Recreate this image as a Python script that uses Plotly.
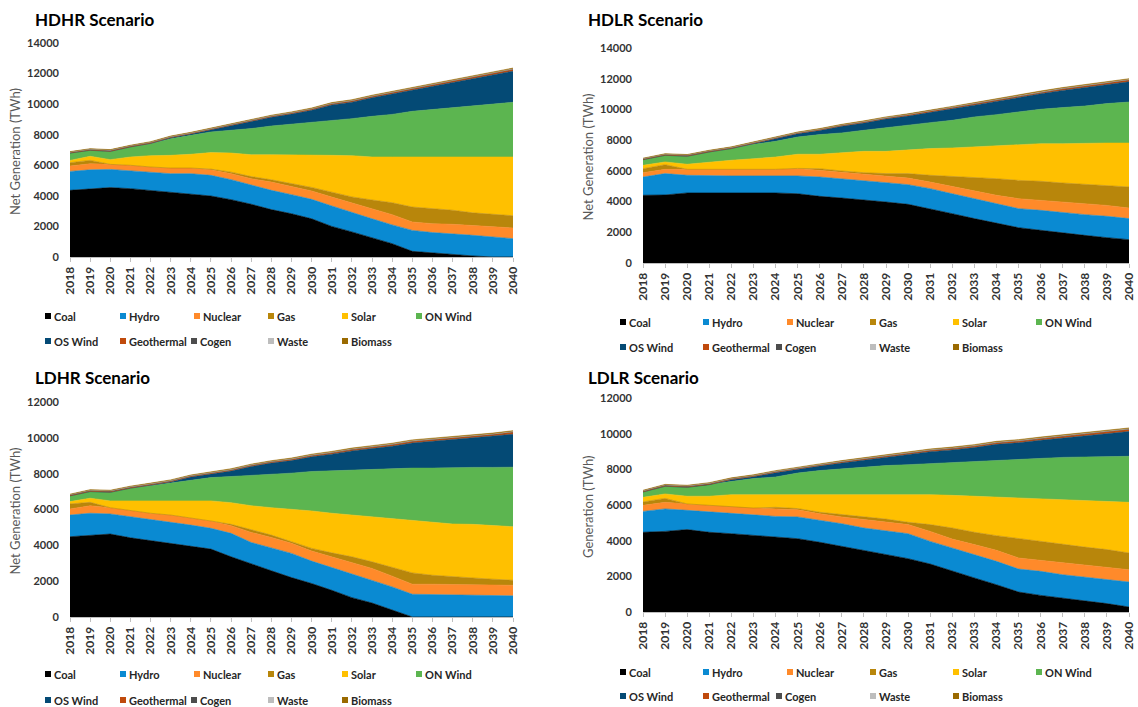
import plotly.graph_objects as go

W, H = 1138, 707

years = list(range(2018, 2041))
year_labels = [str(y) for y in years]

series_names = ["Coal", "Hydro", "Nuclear", "Gas", "Solar", "ON Wind",
                "OS Wind", "Geothermal", "Cogen", "Waste", "Biomass"]
series_colors = ["#000000", "#0A8AD2", "#FF8A2A", "#B8860B", "#FFC000", "#5CB550",
                 "#044A75", "#C04A0C", "#4D4D4D", "#BDBDBD", "#9A6A00"]

# Minor sources (TWh), common to all scenarios
geothermal = [15, 18, 20, 22, 25, 28, 32, 36, 40, 45, 50, 55, 60, 65, 70, 75, 80, 85, 90, 95, 100, 105, 110]
cogen = [45, 50, 55, 50, 45, 40, 38, 36, 35, 34, 33, 32, 31, 30, 30, 29, 28, 28, 27, 26, 26, 25, 25]
waste = [10, 10, 10, 10, 11, 11, 11, 12, 12, 12, 12, 13, 13, 13, 13, 14, 14, 14, 14, 15, 15, 15, 15]
biomass = [25, 28, 30, 30, 32, 34, 35, 36, 38, 40, 40, 42, 43, 44, 45, 46, 47, 48, 48, 49, 50, 50, 50]

# HDHR scenario (TWh)
hdhr_coal = [4360, 4470, 4540, 4470, 4360, 4230, 4140, 3990, 3750, 3450, 3100, 2830, 2500, 2000, 1640, 1240, 870, 370, 260, 150, 70, 0, 0]
hdhr_hydro = [1240, 1230, 1190, 1180, 1180, 1220, 1310, 1350, 1310, 1240, 1260, 1250, 1270, 1340, 1260, 1260, 1230, 1370, 1340, 1380, 1350, 1310, 1200]
hdhr_nuclear = [350, 400, 330, 350, 350, 370, 370, 370, 390, 430, 540, 540, 550, 580, 650, 660, 670, 550, 580, 610, 630, 690, 700]
hdhr_gas = [220, 220, 0, 0, 0, 0, 0, 40, 100, 140, 150, 200, 230, 320, 380, 570, 780, 980, 970, 920, 840, 790, 800]
hdhr_solar = [150, 270, 310, 540, 740, 830, 900, 1080, 1250, 1430, 1640, 1870, 2100, 2410, 2700, 2810, 2990, 3270, 3390, 3480, 3650, 3750, 3840]
hdhr_onwind = [480, 390, 540, 660, 780, 1090, 1240, 1350, 1490, 1710, 1880, 1990, 2160, 2290, 2420, 2660, 2790, 2990, 3100, 3210, 3340, 3450, 3580]
hdhr_oswind = [0, 0, 0, 0, 20, 60, 80, 140, 300, 470, 570, 670, 790, 1010, 1080, 1220, 1340, 1420, 1560, 1700, 1810, 1960, 2040]

# HDLR scenario (TWh)
hdlr_coal = [4410, 4430, 4560, 4560, 4560, 4560, 4560, 4510, 4340, 4230, 4120, 3970, 3820, 3540, 3210, 2890, 2600, 2300, 2130, 1950, 1800, 1650, 1520]
hdlr_hydro = [1190, 1390, 1150, 1110, 1110, 1110, 1110, 1160, 1260, 1260, 1220, 1260, 1280, 1300, 1300, 1300, 1260, 1240, 1300, 1330, 1350, 1390, 1370]
hdlr_nuclear = [280, 280, 390, 430, 430, 430, 430, 490, 430, 390, 410, 410, 430, 430, 480, 540, 550, 650, 650, 690, 710, 710, 690]
hdlr_gas = [260, 300, 0, 0, 0, 0, 0, 0, 110, 110, 130, 180, 290, 440, 650, 870, 1080, 1190, 1240, 1240, 1260, 1310, 1370]
hdlr_solar = [220, 180, 330, 480, 590, 690, 800, 920, 940, 1190, 1390, 1450, 1560, 1740, 1850, 1950, 2130, 2280, 2450, 2560, 2690, 2750, 2860]
hdlr_onwind = [370, 430, 520, 650, 760, 940, 1020, 1120, 1280, 1290, 1370, 1540, 1630, 1690, 1800, 1960, 2040, 2170, 2240, 2350, 2410, 2570, 2670]
hdlr_oswind = [0, 0, 0, 0, 0, 40, 210, 210, 270, 430, 480, 560, 560, 690, 750, 770, 870, 960, 1010, 1120, 1200, 1220, 1320]

# LDHR scenario (TWh)
ldhr_coal = [4480, 4540, 4630, 4420, 4260, 4110, 3960, 3790, 3360, 2990, 2580, 2200, 1870, 1490, 1080, 780, 370, 0, 0, 0, 0, 0, 0]
ldhr_hydro = [1210, 1250, 1120, 1180, 1190, 1170, 1170, 1160, 1310, 1170, 1280, 1350, 1250, 1270, 1310, 1270, 1310, 1270, 1250, 1210, 1180, 1180, 1180]
ldhr_nuclear = [340, 420, 350, 330, 340, 410, 410, 410, 430, 560, 580, 560, 560, 600, 630, 660, 600, 560, 580, 600, 630, 590, 590]
ldhr_gas = [280, 190, 0, 0, 0, 0, 0, 0, 70, 130, 130, 90, 150, 220, 340, 370, 480, 630, 500, 430, 370, 340, 280]
ldhr_solar = [130, 230, 380, 550, 690, 790, 940, 1120, 1210, 1360, 1530, 1830, 2090, 2210, 2330, 2520, 2710, 2920, 2950, 2950, 2990, 2990, 2990]
ldhr_onwind = [320, 370, 480, 710, 840, 990, 1170, 1300, 1460, 1680, 1870, 2000, 2200, 2370, 2520, 2650, 2800, 2930, 3030, 3150, 3180, 3250, 3320]
ldhr_oswind = [0, 0, 0, 0, 40, 70, 160, 180, 310, 510, 620, 700, 820, 930, 1060, 1150, 1260, 1400, 1490, 1560, 1630, 1720, 1840]

# LDLR scenario (TWh)
ldlr_coal = [4470, 4520, 4620, 4470, 4390, 4300, 4190, 4110, 3910, 3680, 3460, 3250, 2990, 2690, 2280, 1910, 1530, 1120, 930, 790, 640, 470, 280]
ldlr_hydro = [1170, 1260, 1080, 1140, 1120, 1120, 1170, 1220, 1230, 1270, 1250, 1310, 1400, 1270, 1310, 1300, 1310, 1290, 1350, 1300, 1320, 1380, 1400]
ldlr_nuclear = [340, 370, 360, 370, 420, 410, 420, 410, 370, 380, 470, 490, 510, 560, 500, 570, 620, 620, 620, 660, 660, 650, 690]
ldlr_gas = [190, 220, 0, 0, 0, 0, 90, 60, 80, 130, 180, 160, 130, 380, 620, 690, 820, 1080, 1060, 1060, 1020, 1000, 940]
ldlr_solar = [260, 250, 430, 510, 650, 750, 750, 820, 1030, 1160, 1260, 1410, 1590, 1680, 1830, 2020, 2170, 2280, 2400, 2490, 2600, 2710, 2840]
ldlr_onwind = [300, 430, 500, 650, 750, 900, 950, 1170, 1310, 1400, 1510, 1590, 1640, 1740, 1820, 1920, 2040, 2150, 2240, 2370, 2450, 2520, 2580]
ldlr_oswind = [0, 0, 0, 0, 80, 100, 240, 220, 250, 340, 380, 440, 560, 670, 730, 810, 910, 950, 1030, 1090, 1190, 1270, 1390]

FONT = "Lato"
TICK_COLOR = "#333333"


def px(x):
    return x / W


def py(y):
    return 1 - y / H


panels = [
    dict(title="HDHR Scenario", ytitle="Net Generation (TWh)", ymax=14000,
         data=[hdhr_coal, hdhr_hydro, hdhr_nuclear, hdhr_gas, hdhr_solar, hdhr_onwind, hdhr_oswind],
         x0=70, x1=513, ytop=43, ybot=257, title_xy=(33, 19), ytitle_x=15,
         leg_x=[45, 120, 194, 268, 342, 416], leg_x2=[45, 120, 191, 268, 342], leg_y=(316, 341)),
    dict(title="HDLR Scenario", ytitle="Net Generation (TWh)", ymax=14000,
         data=[hdlr_coal, hdlr_hydro, hdlr_nuclear, hdlr_gas, hdlr_solar, hdlr_onwind, hdlr_oswind],
         x0=643, x1=1129, ytop=48, ybot=263, title_xy=(586, 19), ytitle_x=588,
         leg_x=[620, 703, 787, 870, 953, 1036], leg_x2=[620, 703, 776, 870, 953], leg_y=(322, 347)),
    dict(title="LDHR Scenario", ytitle="Net Generation (TWh)", ymax=12000,
         data=[ldhr_coal, ldhr_hydro, ldhr_nuclear, ldhr_gas, ldhr_solar, ldhr_onwind, ldhr_oswind],
         x0=70, x1=513, ytop=402, ybot=617, title_xy=(33, 377), ytitle_x=15,
         leg_x=[45, 120, 194, 268, 342, 416], leg_x2=[45, 120, 191, 268, 342], leg_y=(674, 700)),
    dict(title="LDLR Scenario", ytitle="Generation (TWh)", ymax=12000,
         data=[ldlr_coal, ldlr_hydro, ldlr_nuclear, ldlr_gas, ldlr_solar, ldlr_onwind, ldlr_oswind],
         x0=643, x1=1129, ytop=398, ybot=612, title_xy=(586, 377), ytitle_x=588,
         leg_x=[620, 703, 787, 870, 953, 1036], leg_x2=[620, 703, 776, 870, 953], leg_y=(672, 696)),
]

fig = go.Figure()
annotations = []
shapes = []
layout_axes = {}

for i, p in enumerate(panels, start=1):
    xa = "x" if i == 1 else f"x{i}"
    ya = "y" if i == 1 else f"y{i}"
    all_series = p["data"] + [geothermal, cogen, waste, biomass]
    for name, color, vals in zip(series_names, series_colors, all_series):
        fig.add_trace(go.Scatter(
            x=years, y=vals, name=name, mode="lines",
            stackgroup=f"s{i}", line=dict(width=0.6, color=color),
            fillcolor=color, xaxis=xa, yaxis=ya, showlegend=False,
        ))

    layout_axes[f"xaxis{'' if i == 1 else i}"] = dict(
        domain=[px(p["x0"]), px(p["x1"])], anchor=ya, range=[2018, 2040],
        tickmode="array", tickvals=years, ticktext=year_labels, tickangle=-90,
        ticks="outside", ticklen=4, tickcolor="#BFBFBF", showline=True,
        linecolor="#BFBFBF", linewidth=1, showgrid=False, zeroline=False,
        ticklabeloverflow="allow",
        tickfont=dict(family=FONT, size=12, color=TICK_COLOR, weight="bold"),
        automargin=False, fixedrange=True,
    )
    layout_axes[f"yaxis{'' if i == 1 else i}"] = dict(
        domain=[py(p["ybot"]), py(p["ytop"])], anchor=xa, range=[0, p["ymax"]],
        dtick=2000, tickformat="d", showgrid=False, zeroline=False, showline=False,
        ticks="", ticklabelstandoff=10,
        tickfont=dict(family=FONT, size=11, color=TICK_COLOR, weight="bold"),
        automargin=False, fixedrange=True,
    )

    # panel title
    tx, ty = p["title_xy"]
    annotations.append(dict(
        x=px(tx), y=py(ty), xref="paper", yref="paper", xanchor="left", yanchor="middle",
        text=f"<b>{p['title']}</b>", showarrow=False,
        font=dict(family=FONT, size=17, color="#000000"),
    ))
    # y-axis title
    annotations.append(dict(
        x=px(p["ytitle_x"]), y=py((p["ytop"] + p["ybot"]) / 2 + 2), xref="paper", yref="paper",
        xanchor="center", yanchor="middle", text=p["ytitle"], textangle=-90,
        showarrow=False, font=dict(family=FONT, size=13, color="#595959"),
    ))

    # legend: two rows of colour squares with labels
    rows = [(series_names[:6], series_colors[:6], p["leg_x"], p["leg_y"][0]),
            (series_names[6:], series_colors[6:], p["leg_x2"], p["leg_y"][1])]
    for names, colors, xs, yrow in rows:
        for name, color, lx in zip(names, colors, xs):
            s = 6
            shapes.append(dict(
                type="rect", xref="paper", yref="paper",
                x0=px(lx), x1=px(lx + s), y0=py(yrow + s / 2), y1=py(yrow - s / 2),
                fillcolor=color, line=dict(width=0),
            ))
            annotations.append(dict(
                x=px(lx + s + 1), y=py(yrow), xref="paper", yref="paper",
                xanchor="left", yanchor="middle", text=f"<b>{name}</b>",
                showarrow=False, font=dict(family=FONT, size=11, color="#262626"),
            ))

fig.update_layout(
    width=W, height=H,
    margin=dict(l=0, r=0, t=0, b=0),
    paper_bgcolor="white", plot_bgcolor="white",
    showlegend=False,
    annotations=annotations, shapes=shapes,
    **layout_axes,
)

fig.write_html("out.html")
